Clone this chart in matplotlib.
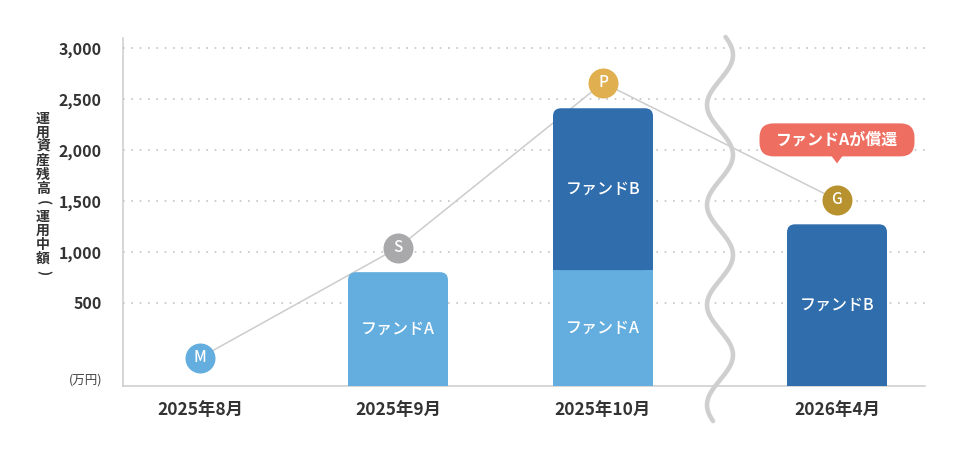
import numpy as np
import matplotlib
matplotlib.use('Agg')
import matplotlib.pyplot as plt
from matplotlib.patches import FancyBboxPatch, Rectangle, Polygon

plt.rcParams['font.family'] = ['Noto Sans CJK JP', 'DejaVu Sans']

# ---------------- data ----------------
categories = ['2025年8月', '2025年9月', '2025年10月', '2026年4月']
fund_a = [0, 800, 820, 0]
fund_b = [0, 0, 1590, 1270]
total_line = [-40, 1040, 2660, 1510]
point_letters = ['M', 'S', 'P', 'G']
yticks = [500, 1000, 1500, 2000, 2500, 3000]
ytick_labels = ['500', '1,000', '1,500', '2,000', '2,500', '3,000']
callout_text = 'ファンドAが償還'
ylabel_text = '運用資産残高（運用中額）'
unit_label = '(万円)'
fund_a_label = 'ファンドA'
fund_b_label = 'ファンドB'

# ---------------- layout / style ----------------
W, H = 960, 458
xpos = [0, 0.99, 2.015, 3.185]
XLIM = (-0.3865, 3.625)
YLIM = (-318, 3100)
BREAK_X = 2.6
BAR_W = 0.5
C_A = '#63ADDF'
C_B = '#2F6DAD'
point_colors = ['#63ADDF', '#A9A9AB', '#E0B050', '#B8922E']
C_CALLOUT = '#EE6F61'
C_TEXT = '#333333'
C_GRID = '#C4C4C4'

fig = plt.figure(figsize=(W / 100, H / 100), dpi=100)
ax = fig.add_axes([122.7 / W, 72 / H, (925 - 122.7) / W, (386 - 38) / H])
ax.set_xlim(*XLIM)
ax.set_ylim(*YLIM)

for s in ['top', 'right']:
    ax.spines[s].set_visible(False)
for s in ['left', 'bottom']:
    ax.spines[s].set_color('#CCCCCC')
    ax.spines[s].set_linewidth(1.1)

ax.set_xticks(xpos, categories)
ax.set_yticks(yticks, ytick_labels)
ax.tick_params(axis='x', length=0, pad=11, labelsize=12.5, colors=C_TEXT)
ax.tick_params(axis='y', length=0, pad=15, labelsize=11.5, colors=C_TEXT)
for lab in ax.get_xticklabels() + ax.get_yticklabels():
    lab.set_fontweight('bold')

for yv in yticks:
    ax.axhline(yv, color=C_GRID, lw=1.2, ls=(0, (1, 4)), zorder=1)


def px_scale():
    o = ax.transData.transform((0, 0))
    p = ax.transData.transform((1, 1))
    return p[0] - o[0], p[1] - o[1]


sx, sy = px_scale()


def rounded_bar(x, y0, y1, color, r_px=8):
    rx, ry = r_px / sx, r_px / sy
    ax.add_patch(FancyBboxPatch((x - BAR_W / 2, y0), BAR_W, y1 - y0,
                                boxstyle=f"round,pad=0,rounding_size={rx}",
                                mutation_aspect=ry / rx, fc=color, ec='none',
                                lw=0, zorder=3))
    ax.add_patch(Rectangle((x - BAR_W / 2, y0), BAR_W, (y1 - y0) - ry,
                           fc=color, ec='none', lw=0, zorder=3))


base = YLIM[0]
for i, x in enumerate(xpos):
    a, b = fund_a[i], fund_b[i]
    if a > 0:
        top_a = a
        if b > 0:
            ax.add_patch(Rectangle((x - BAR_W / 2, base), BAR_W, top_a - base,
                                   fc=C_A, ec='none', lw=0, zorder=3))
        else:
            rounded_bar(x, base, top_a, C_A)
        ax.text(x, (base + top_a) / 2, fund_a_label, color='white', fontsize=11.5,
                fontweight='medium', ha='center', va='center', zorder=4)
        start_b = top_a
    else:
        start_b = base
    if b > 0:
        top_b = (a if a > 0 else 0) + b
        rounded_bar(x, start_b, top_b, C_B)
        ax.text(x, (start_b + top_b) / 2, fund_b_label, color='white', fontsize=11.5,
                fontweight='medium', ha='center', va='center', zorder=4)

# line + markers
ax.plot(xpos, total_line, color='#CCCCCC', lw=1.1, zorder=2)
for x, y, c, t in zip(xpos, total_line, point_colors, point_letters):
    ax.plot([x], [y], marker='o', ms=21.6, mfc=c, mec='none', zorder=5, clip_on=False)
    ax.text(x, y, t, color='white', fontsize=11, fontweight='medium',
            ha='center', va='center', zorder=6)

# wavy break line
bx_disp = ax.transData.transform((BREAK_X, 0))[0]
ys_px = np.linspace(37, 421, 500)
xs_disp = bx_disp + 13 * np.sin(2 * np.pi * (ys_px - 30) / 100)
pts = ax.transData.inverted().transform(np.column_stack([xs_disp, H - ys_px]))
ax.plot(pts[:, 0], pts[:, 1], color='#CFCFCF', lw=3.3, zorder=7, clip_on=False,
        solid_capstyle='round')

# callout above G
gx, gy = xpos[3], total_line[3]
g_disp = ax.transData.transform((gx, gy))
cx, cy = g_disp[0], g_disp[1] + 60
bw, bh, br = 155, 33, 14
inv = ax.transData.inverted()
(x0, y0) = inv.transform((cx - bw / 2, cy - bh / 2))
(x1, y1) = inv.transform((cx + bw / 2, cy + bh / 2))
rx, ry = br / sx, br / sy
ax.add_patch(FancyBboxPatch((x0, y0), x1 - x0, y1 - y0,
                            boxstyle=f"round,pad=0,rounding_size={rx}",
                            mutation_aspect=ry / rx, fc=C_CALLOUT, ec='none',
                            lw=0, zorder=8, clip_on=False))
tri = inv.transform([(cx - 6, cy - bh / 2 + 1), (cx + 6, cy - bh / 2 + 1),
                     (cx, cy - bh / 2 - 7)])
ax.add_patch(Polygon(tri, closed=True, fc=C_CALLOUT, ec='none', lw=0, zorder=8,
                     clip_on=False))
tc = inv.transform((cx, cy))
ax.text(tc[0], tc[1], callout_text, color='white', fontsize=11.5, fontweight='bold',
        ha='center', va='center', zorder=9)

# vertical y label (stacked characters)
pitch = 14
y_start = 119
for k, ch in enumerate(ylabel_text):
    ypx = y_start + k * pitch
    rot = 0
    if ch == '（':
        ch, rot = '(', -90
    elif ch == '）':
        ch, rot = ')', -90
    fig.text(43 / W, 1 - ypx / H, ch, fontsize=10, fontweight='bold', color=C_TEXT,
             ha='center', va='center', rotation=rot)

# unit label
fig.text(102 / W, 1 - 380 / H, unit_label, fontsize=9, color='#444444',
         ha='right', va='center')

fig.savefig('out.png', dpi=100)
